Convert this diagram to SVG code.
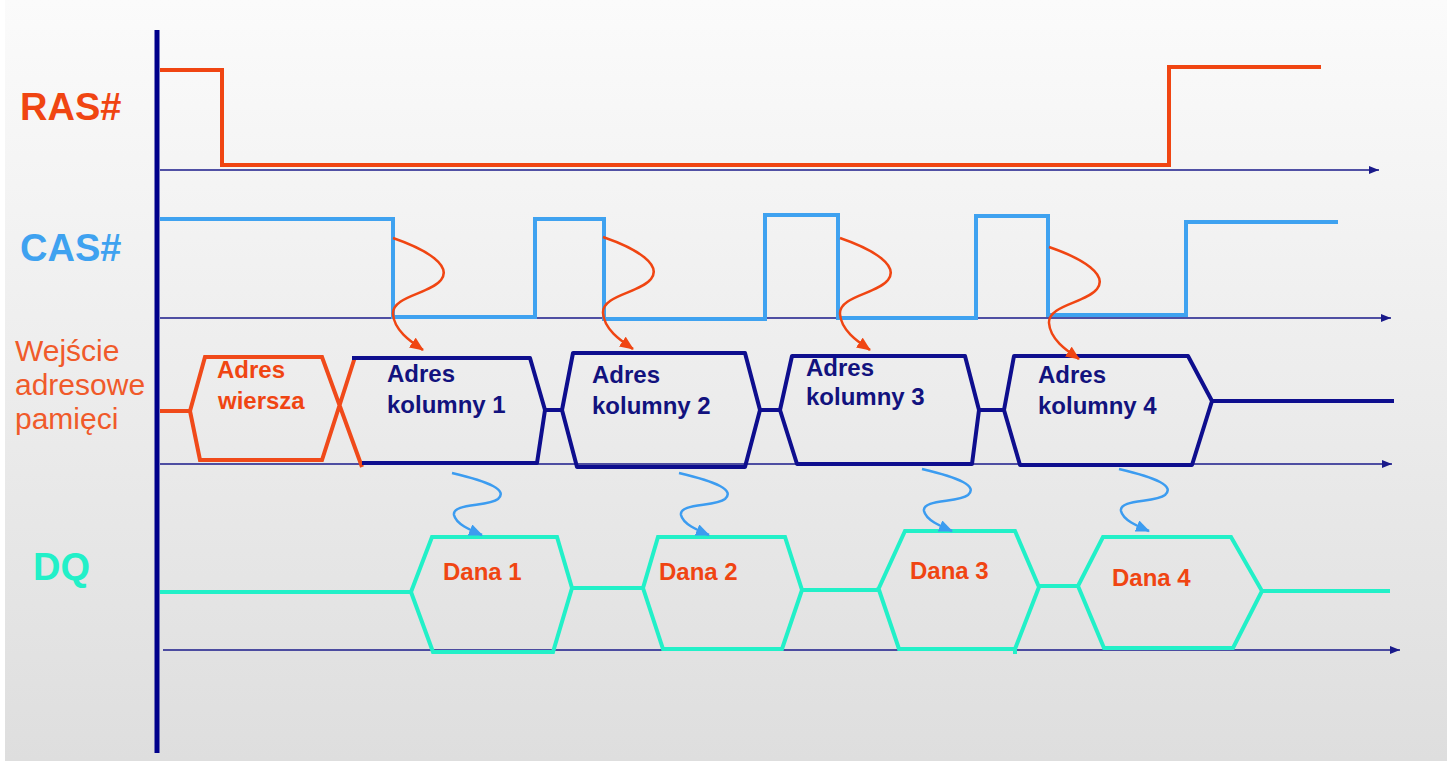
<svg xmlns="http://www.w3.org/2000/svg" width="1447" height="761" viewBox="0 0 1447 761">
<defs>
<linearGradient id="bg" x1="0" y1="0" x2="0" y2="1">
<stop offset="0" stop-color="#fbfbfb"/>
<stop offset="1" stop-color="#dedede"/>
</linearGradient>
<marker id="ax" viewBox="0 0 10 8" refX="10" refY="4" markerWidth="10" markerHeight="8" markerUnits="userSpaceOnUse" orient="auto">
<path d="M0,0 L10,4 L0,8 Z" fill="#1a1a8a"/>
</marker>
<marker id="ao" viewBox="0 0 14 12" refX="13" refY="6" markerWidth="14" markerHeight="12" markerUnits="userSpaceOnUse" orient="auto">
<path d="M0,0 L14,6 L0,12 Z" fill="#f04512"/>
</marker>
<marker id="ab" viewBox="0 0 14 12" refX="13" refY="6" markerWidth="14" markerHeight="12" markerUnits="userSpaceOnUse" orient="auto">
<path d="M0,0 L14,6 L0,12 Z" fill="#3c9cf0"/>
</marker>
</defs>
<style>
.lbl{font-family:"Liberation Sans",Arial,sans-serif;font-weight:bold}
.axis{stroke:#1a1a8a;stroke-width:1.6;fill:none}
.ras{stroke:#f04512;stroke-width:4;fill:none}
.cas{stroke:#3fa2f0;stroke-width:4;fill:none}
.adr{stroke:#0e0e8e;stroke-width:4;fill:none;stroke-linejoin:round}
.row{stroke:#f04a1a;stroke-width:4;fill:none}
.dq{stroke:#22f0c8;stroke-width:4;fill:none}
.co{stroke:#f04512;stroke-width:2.5;fill:none}
.cb{stroke:#3c9cf0;stroke-width:2.5;fill:none}
.tn{fill:#12127e;font-size:24px}
.to{fill:#f04512}
.in{font-family:"Liberation Sans",Arial,sans-serif;font-size:30px;fill:#f05a2a}
</style>
<rect x="0" y="0" width="1447" height="761" fill="url(#bg)"/>
<rect x="0" y="0" width="5" height="761" fill="#ffffff"/>

<g id="axes">
<line x1="157" y1="30" x2="157" y2="753" stroke="#00008b" stroke-width="5"/>
<line class="axis" x1="160" y1="170" x2="1379" y2="170" marker-end="url(#ax)"/>
<line class="axis" x1="160" y1="318" x2="1391" y2="318" marker-end="url(#ax)"/>
<line class="axis" x1="160" y1="464" x2="1392" y2="464" marker-end="url(#ax)"/>
<line class="axis" x1="163" y1="650" x2="1400" y2="650" marker-end="url(#ax)"/>
</g>

<g id="labels">
<text class="lbl to" x="20" y="120" font-size="38">RAS#</text>
<text class="lbl" x="20" y="261" font-size="38" fill="#3fa2f0">CAS#</text>
<text class="in" x="15" y="361">Wejście</text>
<text class="in" x="15" y="395">adresowe</text>
<text class="in" x="15" y="429">pamięci</text>
<text class="lbl" x="33" y="580" font-size="38" fill="#22f0c8">DQ</text>
</g>

<g id="ras-signal">
<path class="ras" d="M160,70 H222 V165 H1169 V67 H1321"/>
</g>

<g id="cas-signal">
<path class="cas" d="M160,219 H393 V317 H535 V219 H606 M604,219 V319 H765 V215 H838 V318 H976 V216 H1048 V315 H1186 V222 H1338"/>
</g>

<g id="adres-wiersza">
<path class="row" d="M160,411 H190 L205,357 H322 L362,467 M190,411 L200,460 H322 L355,357"/>
<text class="lbl to" x="217" y="378" font-size="24">Adres</text>
<text class="lbl to" x="218" y="409" font-size="24">wiersza</text>
</g>

<g id="adres-kolumny-1">
<path class="adr" d="M352,358 H530 L545,410 L537,463 H362"/>
<text class="lbl tn" x="387" y="382">Adres</text>
<text class="lbl tn" x="387" y="413">kolumny 1</text>
</g>
<g id="adres-kolumny-2">
<path class="adr" d="M545,410 H562 L573,353 H745 L760,410 L745,467 H577 L562,410"/>
<text class="lbl tn" x="592" y="383">Adres</text>
<text class="lbl tn" x="592" y="414">kolumny 2</text>
</g>
<g id="adres-kolumny-3">
<path class="adr" d="M760,410 H780 L792,356 H965 L979,410 L972,464 H797 L780,410"/>
<text class="lbl tn" x="806" y="376">Adres</text>
<text class="lbl tn" x="806" y="405">kolumny 3</text>
</g>
<g id="adres-kolumny-4">
<path class="adr" d="M979,410 H1004 L1014,356 H1188 L1212,401 L1192,465 H1020 L1004,410 M1212,401 H1394"/>
<text class="lbl tn" x="1038" y="383">Adres</text>
<text class="lbl tn" x="1038" y="414">kolumny 4</text>
</g>

<g id="dana-1">
<path class="dq" d="M160,592 H411 L432,537 H557 L572,588 L553,652 H433 L411,592"/>
<text class="lbl to" x="443" y="580" font-size="24">Dana 1</text>
</g>
<g id="dana-2">
<path class="dq" d="M572,588 H643 L658,537 H785 L802,590 L782,649 H663 L643,588"/>
<text class="lbl to" x="659" y="580" font-size="24">Dana 2</text>
</g>
<g id="dana-3">
<path class="dq" d="M802,590 H878 L905,531 H1015 L1039,587 L1015,649 H899 L878,587 M1015,649 V654"/>
<text class="lbl to" x="910" y="579" font-size="24">Dana 3</text>
</g>
<g id="dana-4">
<path class="dq" d="M1039,586 H1078 L1103,537 H1231 L1262,591 L1233,648 H1104 L1078,586 M1262,591 H1390"/>
<text class="lbl to" x="1112" y="586" font-size="24">Dana 4</text>
</g>

<g id="connectors">
<path class="co" marker-end="url(#ao)" d="M393,238 C428,250 452,266 441,280 C430,294 392,296 393,314 C394,330 410,341 423,350"/>
<path class="co" marker-end="url(#ao)" d="M603,237 C638,249 662,265 651,279 C640,293 602,295 603,313 C604,329 620,340 633,349"/>
<path class="co" marker-end="url(#ao)" d="M840,238 C875,250 899,266 888,280 C877,294 839,296 840,314 C841,330 857,341 870,350"/>
<path class="co" marker-end="url(#ao)" d="M1049,247 C1084,259 1108,275 1097,289 C1086,303 1048,305 1049,323 C1050,339 1066,350 1079,359"/>
<path class="cb" marker-end="url(#ab)" d="M452,473 C490,482 508,490 498,499 C488,507 452,503 454,515 C456,524 470,530 482,535"/>
<path class="cb" marker-end="url(#ab)" d="M679,473 C717,482 735,490 725,499 C715,507 679,503 681,515 C683,524 697,530 709,535"/>
<path class="cb" marker-end="url(#ab)" d="M922,469 C960,478 978,486 968,495 C958,503 922,499 924,511 C926,520 940,526 952,531"/>
<path class="cb" marker-end="url(#ab)" d="M1119,469 C1157,478 1175,486 1165,495 C1155,503 1119,499 1121,511 C1123,520 1137,526 1149,531"/>
</g>
</svg>
